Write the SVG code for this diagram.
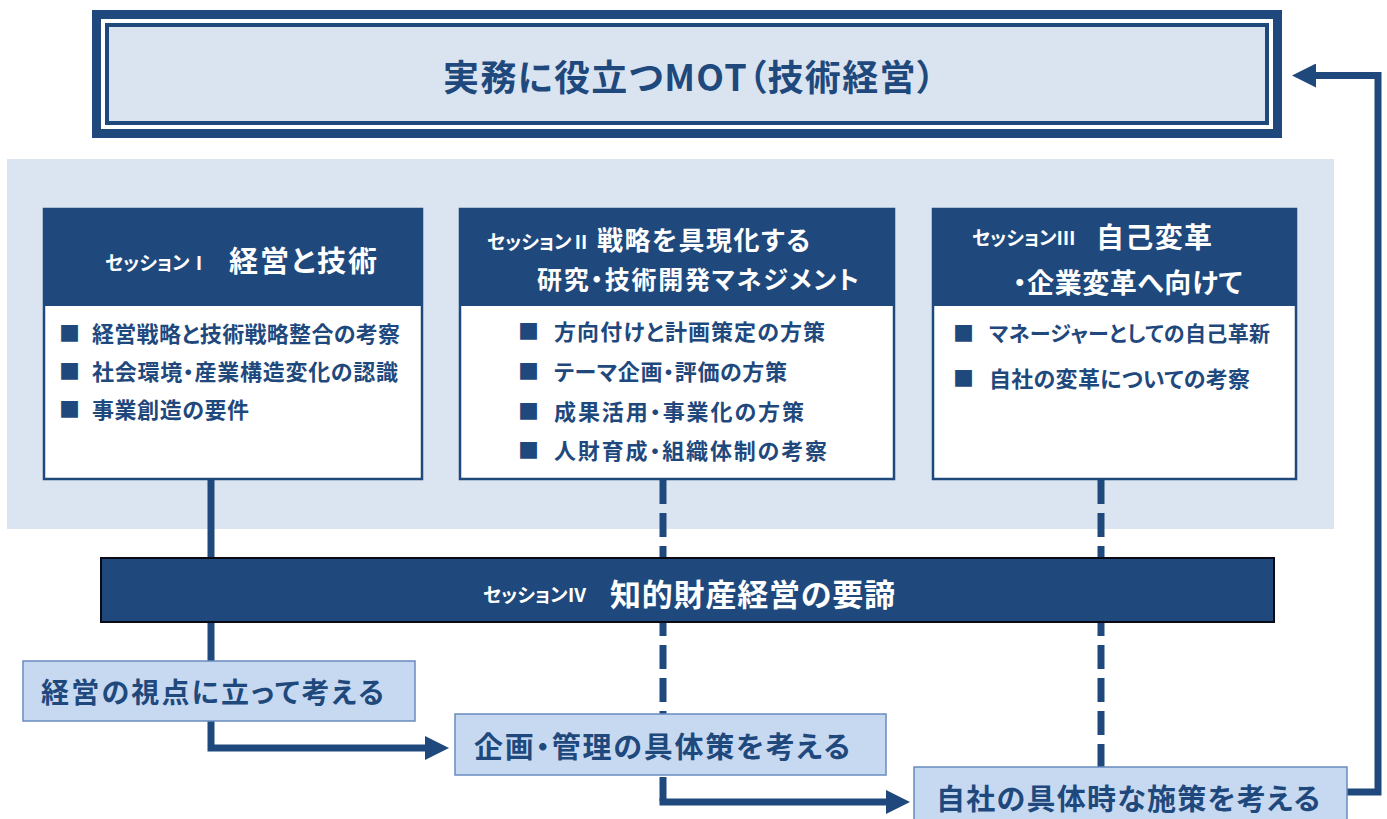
<svg xmlns="http://www.w3.org/2000/svg" width="1387" height="819" viewBox="0 0 1387 819">
<defs>
<style>
text{font-family:"Noto Sans CJK JP","Noto Sans",sans-serif;font-weight:bold;dominant-baseline:central;font-feature-settings:"palt"}
.dk{fill:#1F497D}
.wt{fill:#ffffff}
.hdr{fill:#1F497D}
.box{fill:#ffffff;stroke:#1F497D;stroke-width:2.5}
.lb{fill:#C6D9F1;stroke:#6A8BBE;stroke-width:1.5}
.ln{fill:none;stroke:#1F497D;stroke-width:7}
.dash{stroke-dasharray:24 9}
.s{font-size:19px}
.it{font-size:22px}
.bul{font-size:21px;font-feature-settings:normal}
.big{font-size:29px}
</style>
<marker id="arr" viewBox="0 0 24 24" markerWidth="24" markerHeight="24" refX="0" refY="12" orient="auto" markerUnits="userSpaceOnUse">
<path d="M0,0 L24,12 L0,24 z" fill="#1F497D"/>
</marker>
</defs>

<rect x="0" y="0" width="1387" height="819" fill="#ffffff"/>

<g id="title">
<rect x="92" y="10" width="1190" height="128" fill="#1F497D"/>
<rect x="101" y="19" width="1172" height="110" fill="#ffffff"/>
<rect x="105" y="23" width="1164" height="102" fill="#1F497D"/>
<rect x="109" y="27" width="1156" height="94" fill="#DAE4F0"/>
<text x="443" y="75" class="dk" style="font-size:36px" textLength="492" lengthAdjust="spacing">実務に役立つMOT（技術経営）</text>
</g>

<g id="panel">
<rect x="7" y="159" width="1327" height="370" fill="#DBE5F1"/>
</g>

<g id="connectors">
<path class="ln" d="M211,480 V748 H425" marker-end="url(#arr)"/>
<path class="ln dash" d="M663,480 V805"/>
<path class="ln" d="M659.5,802 H886" marker-end="url(#arr)"/>
<path class="ln dash" d="M1101,480 V767"/>
<path class="ln" d="M1347,792 H1378 V75.5 H1316" marker-end="url(#arr)"/>
</g>

<g id="session1">
<rect class="box" x="44" y="209" width="378" height="270"/>
<rect class="hdr" x="43" y="208" width="380" height="98"/>
<text x="105" y="261" class="wt s">セッションⅠ</text>
<text x="229" y="259" class="wt" style="font-size:29px" textLength="148" lengthAdjust="spacing">経営と技術</text>
<text x="59" y="332" class="dk bul">■</text>
<text x="92" y="332" class="dk it" textLength="308" lengthAdjust="spacing">経営戦略と技術戦略整合の考察</text>
<text x="59" y="370" class="dk bul">■</text>
<text x="92" y="370" class="dk it" textLength="306" lengthAdjust="spacing">社会環境・産業構造変化の認識</text>
<text x="59" y="408" class="dk bul">■</text>
<text x="92" y="408" class="dk it" textLength="157" lengthAdjust="spacing">事業創造の要件</text>
</g>

<g id="session2">
<rect class="box" x="460" y="209" width="434" height="270"/>
<rect class="hdr" x="459" y="208" width="436" height="98"/>
<text x="487" y="240" class="wt s">セッションⅡ</text>
<text x="597" y="238" class="wt" style="font-size:26px" textLength="213" lengthAdjust="spacing">戦略を具現化する</text>
<text x="537" y="278" class="wt" style="font-size:25px" textLength="322" lengthAdjust="spacing">研究・技術開発マネジメント</text>
<text x="518" y="330" class="dk bul">■</text>
<text x="554" y="330" class="dk it" textLength="271" lengthAdjust="spacing">方向付けと計画策定の方策</text>
<text x="518" y="370" class="dk bul">■</text>
<text x="554" y="370" class="dk it" textLength="233" lengthAdjust="spacing">テーマ企画・評価の方策</text>
<text x="518" y="410" class="dk bul">■</text>
<text x="554" y="410" class="dk it" textLength="250" lengthAdjust="spacing">成果活用・事業化の方策</text>
<text x="518" y="449" class="dk bul">■</text>
<text x="554" y="449" class="dk it" textLength="273" lengthAdjust="spacing">人財育成・組織体制の考察</text>
</g>

<g id="session3">
<rect class="box" x="933" y="209" width="363" height="270"/>
<rect class="hdr" x="932" y="208" width="365" height="98"/>
<text x="972" y="236" class="wt s">セッションⅢ</text>
<text x="1096" y="236" class="wt" style="font-size:28px" textLength="116" lengthAdjust="spacing">自己変革</text>
<text x="1013" y="281" class="wt" style="font-size:27px" textLength="229" lengthAdjust="spacing">・企業変革へ向けて</text>
<text x="953" y="332" class="dk bul">■</text>
<text x="989" y="332" class="dk" style="font-size:21px" textLength="281" lengthAdjust="spacing">マネージャーとしての自己革新</text>
<text x="953" y="377" class="dk bul">■</text>
<text x="989" y="377" class="dk it" textLength="261" lengthAdjust="spacing">自社の変革についての考察</text>
</g>

<g id="session4">
<rect x="101" y="558" width="1173" height="64" fill="#1F497D" stroke="#0A0A14" stroke-width="2"/>
<text x="483" y="593" class="wt s">セッションⅣ</text>
<text x="610" y="592" class="wt" style="font-size:31px" textLength="285" lengthAdjust="spacing">知的財産経営の要諦</text>
</g>

<g id="step1">
<rect class="lb" x="23" y="661" width="392" height="60"/>
<text x="41" y="691" class="dk" style="font-size:28px" textLength="343" lengthAdjust="spacing">経営の視点に立って考える</text>
</g>

<g id="step2">
<rect class="lb" x="455" y="714" width="431" height="61"/>
<text x="474" y="745" class="dk big" textLength="376" lengthAdjust="spacing">企画・管理の具体策を考える</text>
</g>

<g id="step3">
<rect class="lb" x="914" y="767" width="433" height="60"/>
<text x="936" y="797" class="dk big" textLength="384" lengthAdjust="spacing">自社の具体時な施策を考える</text>
</g>
</svg>
